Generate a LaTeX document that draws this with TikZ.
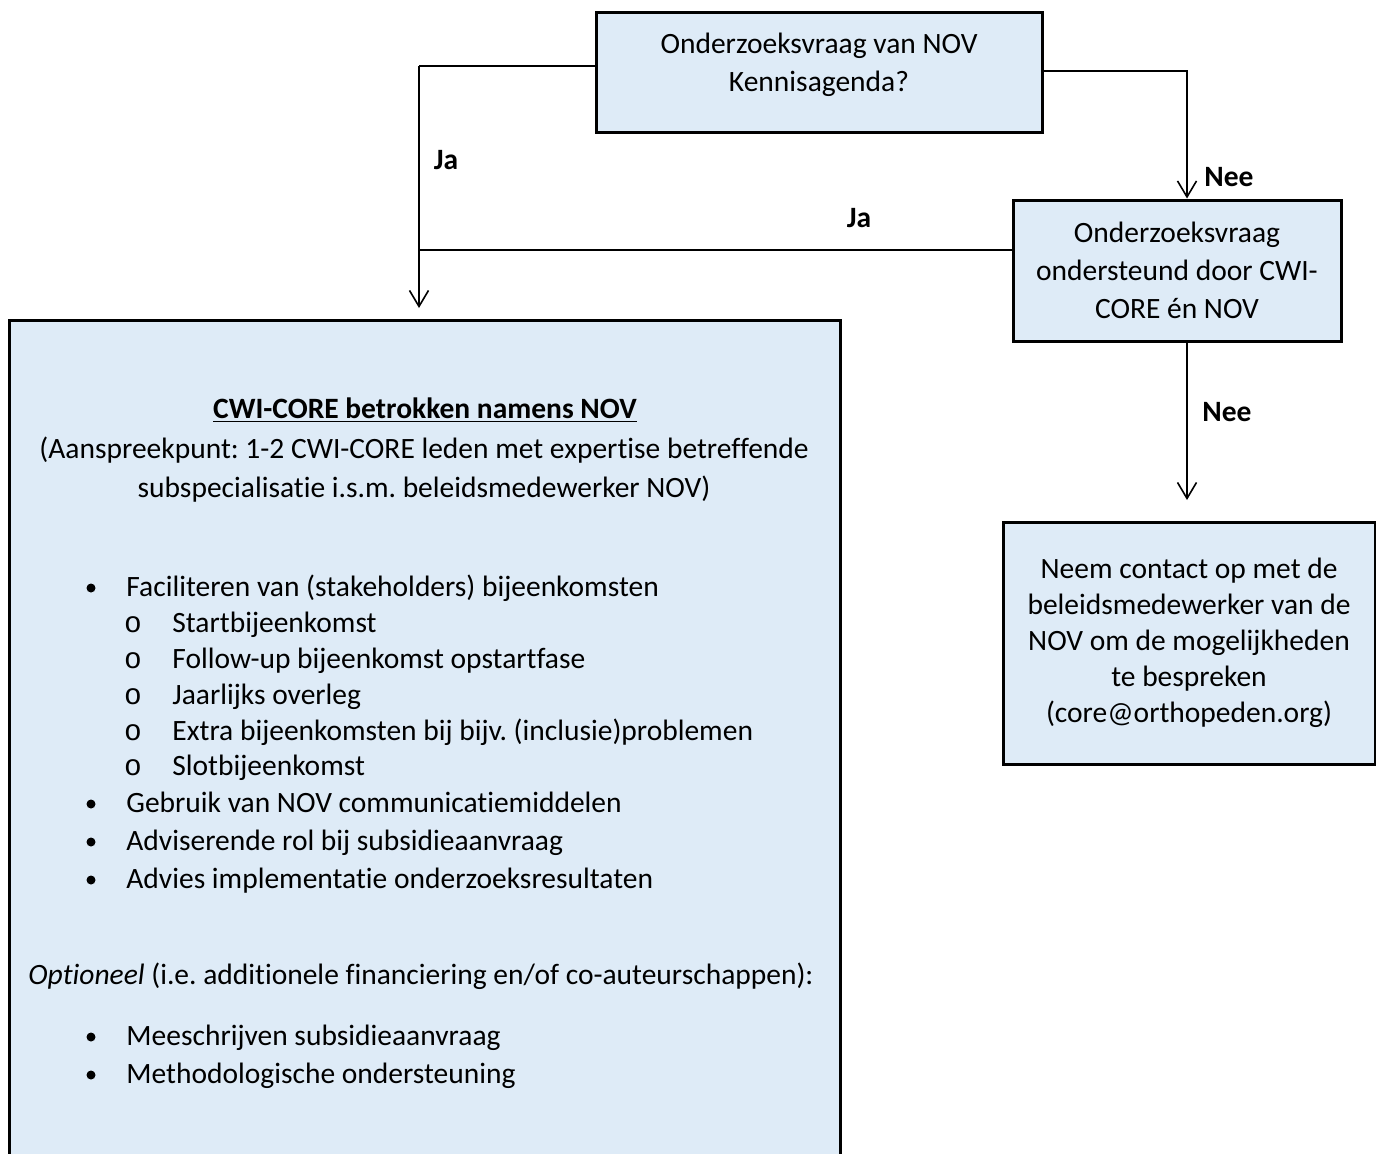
\documentclass[tikz,border=0pt]{standalone}
\usepackage{fontspec}
\setmainfont{Carlito}[Ligatures=NoCommon]
\newfontfamily\monofont{Liberation Mono}
\usetikzlibrary{arrows.meta,positioning}
\definecolor{boxblue}{HTML}{DEEBF7}
\frenchspacing

\begin{document}
\begin{tikzpicture}[
x=0.5pt, y=-0.5pt,
font=\fontsize{14.75}{19}\selectfont,
box/.style={draw, line width=1.5pt, fill=boxblue, align=center, inner sep=0pt},
arrow/.style={-{Straight Barb[length=8pt,width=9.5pt]}, line width=0.8pt},
line/.style={line width=0.8pt},
answer/.style={font=\fontsize{14.75}{19}\selectfont\bfseries, inner sep=0pt},
itemtext/.style={anchor=base west, inner sep=0pt}
]
\useasboundingbox (0,0) rectangle (1376,1153);

% vragen
\node (vraag1) [box, minimum width=223pt, minimum height=60pt] at (819,72) {Onderzoeksvraag van NOV\\Kennisagenda?\rule[-10pt]{0pt}{0pt}};

\node (vraag2) [box, minimum width=164pt, minimum height=70.5pt] at (1177,270.5) {Onderzoeksvraag\\ondersteund door CWI-\\CORE én NOV};

\node (contact) [box, font=\fontsize{14.75}{18}\selectfont, minimum width=186pt, minimum height=121pt] at (1189,643) {Neem contact op met de\\beleidsmedewerker van de\\NOV om de mogelijkheden\\te bespreken\\(core@orthopeden.org)};

% grote box links
\node (core) [box, minimum width=415.5pt, minimum height=440pt] at (424.5,760) {};

\node (coretitel) [anchor=base, inner sep=0pt, font=\fontsize{14.75}{19}\selectfont\bfseries] at (425,418) {\underline{CWI-CORE betrokken namens NOV}};
\node (aanspreek1) [anchor=base, inner sep=0pt] at (424,458) {(Aanspreekpunt: 1-2 CWI-CORE leden met expertise betreffende};
\node (aanspreek2) [anchor=base, inner sep=0pt] at (424,497) {subspecialisatie i.s.m. beleidsmedewerker NOV)};

\foreach \yy/\txt [count=\i] in {588/Faciliteren van (stakeholders) bijeenkomsten, 804/Gebruik van NOV communicatiemiddelen, 842/Adviserende rol bij subsidieaanvraag, 880/Advies implementatie onderzoeksresultaten, 1037/Meeschrijven subsidieaanvraag, 1075/Methodologische ondersteuning} {
  \fill (91,\yy) circle (4.5);
  \node (punt\i) [itemtext] at (126,\yy+8) {\txt};
}

\foreach \yy/\txt [count=\i] in {624/Startbijeenkomst, 660/Follow-up bijeenkomst opstartfase, 696/Jaarlijks overleg, 732/Extra bijeenkomsten bij bijv. (inclusie)problemen, 767/Slotbijeenkomst} {
  \node (subo\i) [anchor=base, inner sep=0pt, font=\fontsize{14.75}{19}\monofont] at (133,\yy+8) {o};
  \node (sub\i) [itemtext] at (172,\yy+8) {\txt};
}

\node (optioneel) [anchor=base, inner sep=0pt] at (421,984) {\textit{Optioneel} (i.e. additionele financiering en/of co-auteurschappen):};

% verbindingen
\coordinate (jaHoek) at (419,66);
\coordinate (jaPijl) at (419,308);
\coordinate (jaSamen) at (419,250);
\coordinate (neeHoek) at (1187,71);
\coordinate (neePijl) at (1187,500);

\draw[line] (vraag1.west |- jaHoek) -- (jaHoek);
\draw[arrow] (jaHoek) -- (jaPijl);
\draw[line] (vraag2.west |- jaSamen) -- (jaSamen);
\draw[arrow] (vraag1.east |- neeHoek) -- (neeHoek) -- (neeHoek |- vraag2.north);
\draw[arrow] (neePijl |- vraag2.south) -- (neePijl);

\node (ja1) [answer] at (446,160) {Ja};
\node (ja2) [answer] at (859,218) {Ja};
\node (nee1) [answer] at (1229,177) {Nee};
\node (nee2) [answer] at (1227,412) {Nee};

\end{tikzpicture}
\end{document}
